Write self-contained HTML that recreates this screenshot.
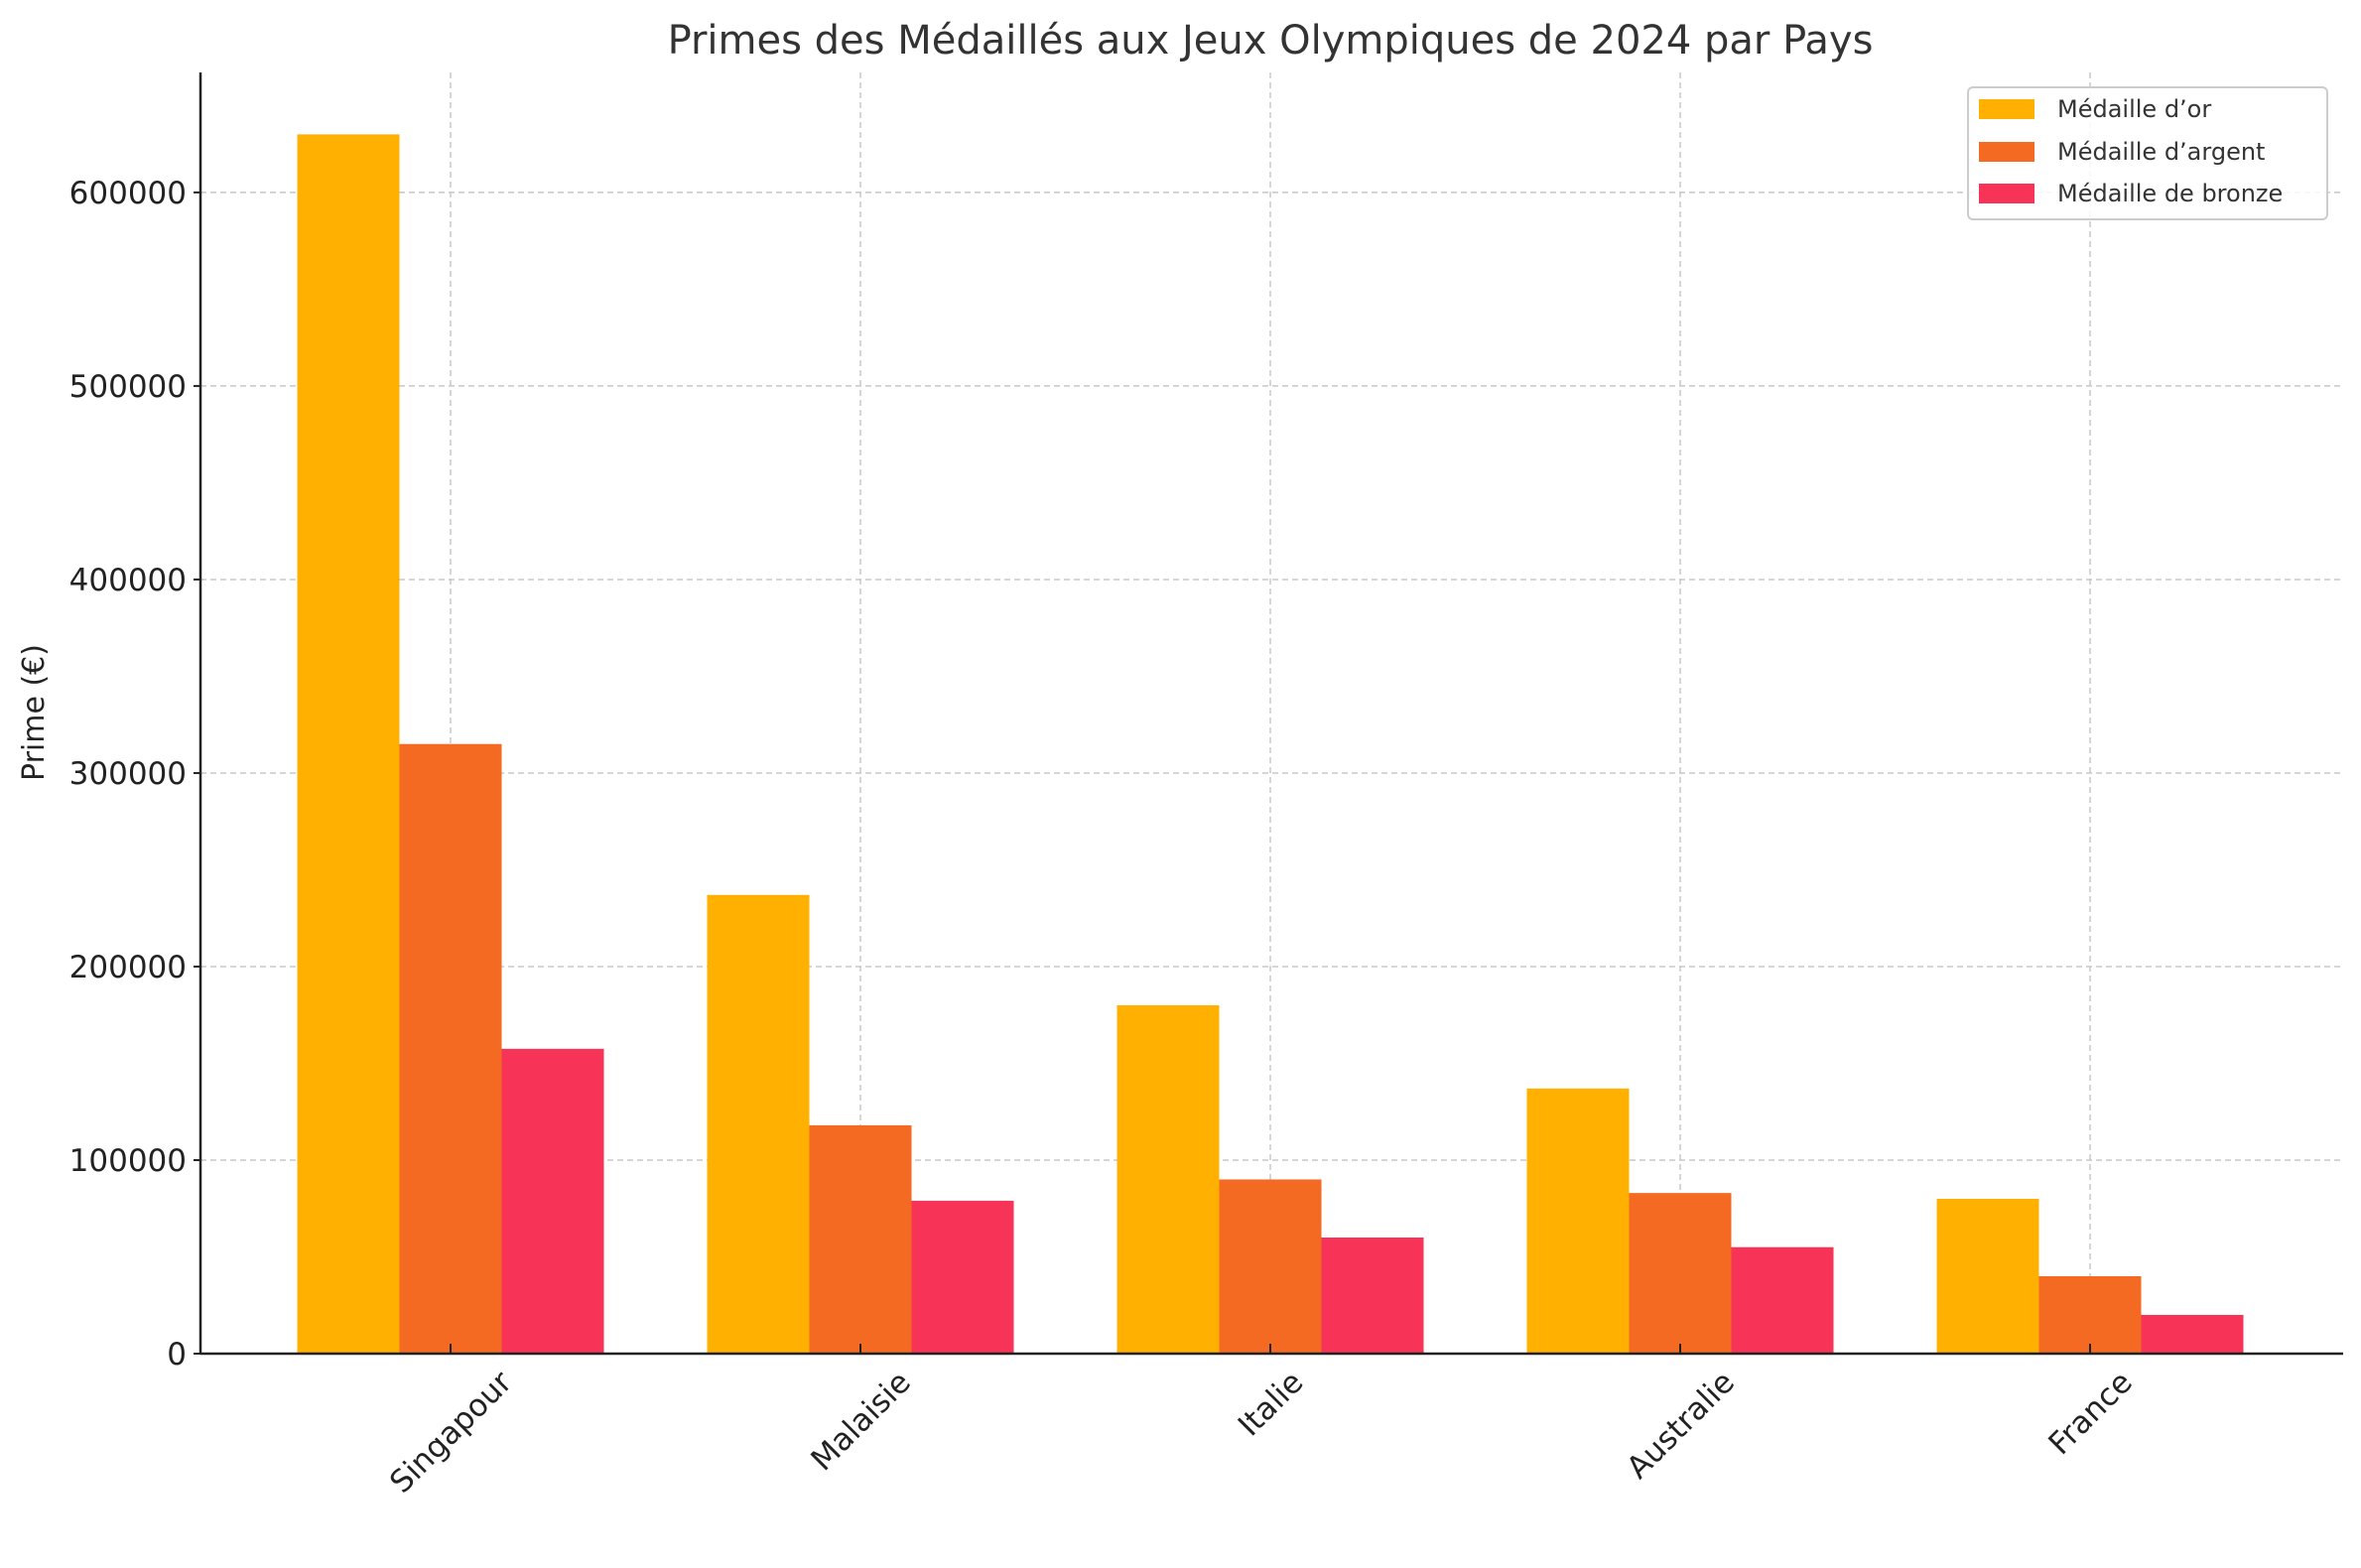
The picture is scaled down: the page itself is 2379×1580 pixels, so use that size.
<!DOCTYPE html>
<html><head><meta charset="utf-8"><style>
html,body{margin:0;padding:0;background:#fff}
svg{display:block}
text{font-family:"DejaVu Sans","Liberation Sans",sans-serif;fill:#222}
</style></head><body>
<svg id="chart" width="2379" height="1580" viewBox="0 0 2379 1580">
<text x="1280" y="54" text-anchor="middle" font-size="40" style="fill:#333">Primes des Médaillés aux Jeux Olympiques de 2024 par Pays</text>
<g id="grid"></g><g id="bars"></g><g id="axes"></g>
<text transform="translate(44,718) rotate(-90)" text-anchor="middle" font-size="30">Prime (€)</text>
<g>
<rect x="1983" y="88" width="362" height="133" rx="5" fill="#fff" fill-opacity="0.85" stroke="#ccc" stroke-width="2"/>
<rect x="1994" y="100" width="56" height="20" fill="#FFB000"/>
<text x="2073" y="118" font-size="24" style="fill:#333">Médaille d’or</text>
<rect x="1994" y="143" width="56" height="20" fill="#F46A22"/>
<text x="2073" y="161" font-size="24" style="fill:#333">Médaille d’argent</text>
<rect x="1994" y="185" width="56" height="20" fill="#F73357"/>
<text x="2073" y="203" font-size="24" style="fill:#333">Médaille de bronze</text>
</g>
</svg>
<script>
const categories = ["Singapour","Malaisie","Italie","Australie","France"];
const gold = [630000,237000,180000,137000,80000];
const silver = [315000,118000,90000,83000,40000];
const bronze = [157500,79000,60000,55000,20000];
const yTicks = [0,100000,200000,300000,400000,500000,600000];

const NS="http://www.w3.org/2000/svg";
const L=202,R=2361,T=73,B=1364,yMax=662000;
const x0=454,step=413,bw=103;
const y=v=>B-(v/yMax)*(B-T);
const xc=i=>x0+i*step;
function mk(tag,attrs,parent){const e=document.createElementNS(NS,tag);for(const k in attrs)e.setAttribute(k,attrs[k]);parent.appendChild(e);return e;}
const grid=document.getElementById('grid'),bars=document.getElementById('bars'),axes=document.getElementById('axes');
yTicks.forEach(t=>{
  if(t>0){const g=mk('line',{x1:L,x2:R,y1:y(t),y2:y(t),stroke:'#c8c8c8','stroke-width':1.5,'stroke-dasharray':'6,4'},grid);
  
  }
  const tk=mk('line',{x1:L-7,x2:L,y1:y(t),y2:y(t),stroke:'#222','stroke-width':2},axes);
  
  
  const tx=mk('text',{x:L-14,y:y(t)+11,'text-anchor':'end','font-size':31},axes);
  tx.textContent=String(t);
  
  
});
categories.forEach((c,i)=>{
  const g=mk('line',{x1:xc(i),x2:xc(i),y1:T,y2:B,stroke:'#c8c8c8','stroke-width':1.5,'stroke-dasharray':'6,4'},grid);
  
  
  [[gold,'#FFB000','gold',-1],[silver,'#F46A22','silver',0],[bronze,'#F73357','bronze',1]].forEach(([arr,col,nm,off])=>{
    const r=mk('rect',{x:xc(i)+off*bw-bw/2,y:y(arr[i]),width:bw,height:B-y(arr[i]),fill:col},bars);
    
    
  });
  const tk=mk('line',{x1:xc(i),x2:xc(i),y1:B-10,y2:B,stroke:'#222','stroke-width':2},axes);
  
  
  const tx=mk('text',{x:0,y:0,'text-anchor':'middle','font-size':31},axes);
  tx.textContent=c;
  const w=tx.getComputedTextLength(),h=31;
  const half=(w*0.7071+h*0.7071)/2;
  const cy=B+12+half;
  tx.setAttribute('transform','translate('+xc(i)+','+cy+') rotate(-45) translate(0,'+(h*0.35)+')');
  
  
});
const ax=mk('line',{x1:L,x2:L,y1:T,y2:B+1,stroke:'#222','stroke-width':2.5},axes);


const bx=mk('line',{x1:L,x2:R,y1:B,y2:B,stroke:'#222','stroke-width':2.5},axes);


</script>
</body></html>
